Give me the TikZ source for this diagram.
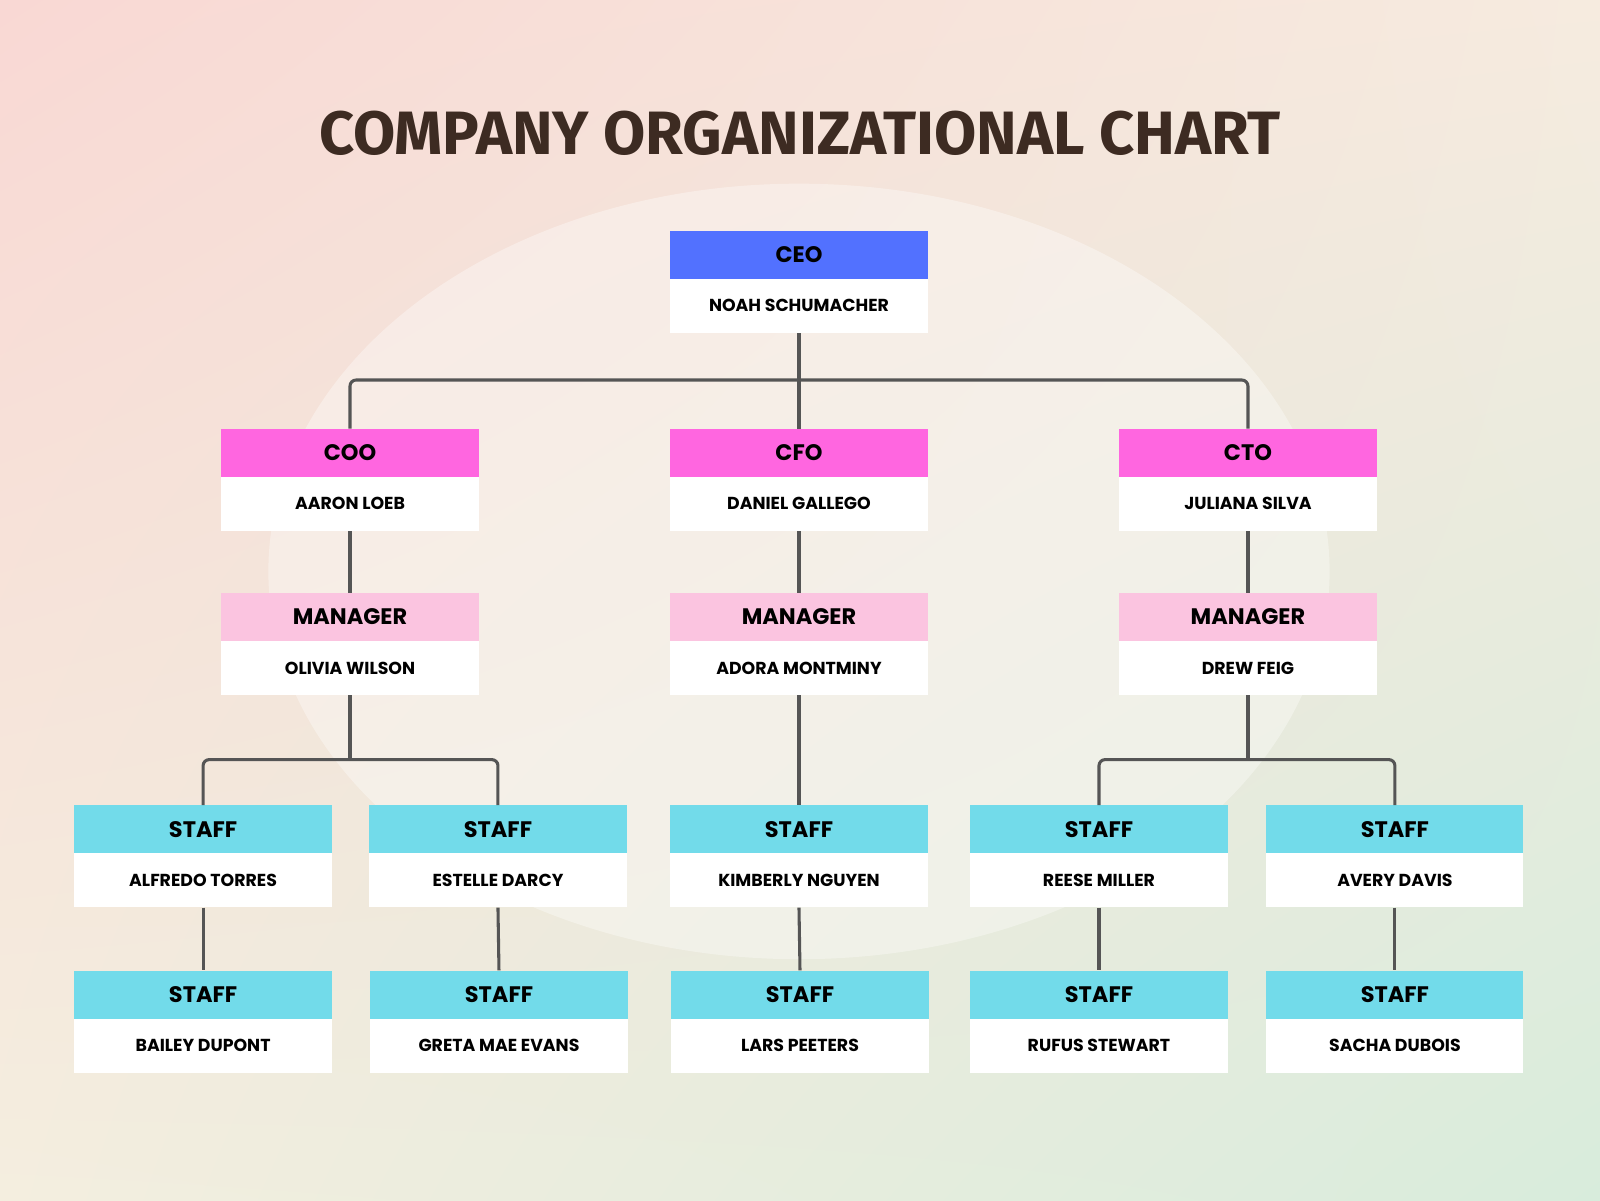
\documentclass[tikz,border=0pt]{standalone}
\usepackage{fontspec}
\usetikzlibrary{shadings}
\setmainfont{Poppins}
\newfontfamily\titlefont{Fira Sans}
\definecolor{ceoc}{HTML}{5271FF}
\definecolor{cxo}{HTML}{FF66E0}
\definecolor{mgr}{HTML}{FBC4E0}
\definecolor{stf}{HTML}{72DBEA}
\definecolor{ln}{HTML}{555555}
\definecolor{ttl}{HTML}{3D2B22}
\definecolor{bgul}{HTML}{F9D8D4}
\definecolor{bgur}{HTML}{F6EBDF}
\definecolor{bgll}{HTML}{F4EEDF}
\definecolor{bglr}{HTML}{D8ECDC}
\tikzset{
  hd/.style={minimum width=252pt,minimum height=47pt,inner sep=0pt,font=\fontsize{22}{24}\selectfont\bfseries,anchor=north},
  nm/.style={fill=white,minimum width=252pt,minimum height=53pt,inner sep=0pt,font=\fontsize{17}{20}\selectfont\bfseries,anchor=north},
  con/.style={draw=ln,line width=3pt,rounded corners=6pt}
}
\newcommand{\orgbox}[6]{%
  \node[hd,fill=#4] (#1h) at (#2,#3) {#5};
  \node[nm] (#1n) at (#2,#3+47) {#6};}
\begin{document}
\begin{tikzpicture}[x=1pt,y=-1pt]
\useasboundingbox (0,0) rectangle (1568,1176);
\shade[upper left=bgul,upper right=bgur,lower left=bgll,lower right=bglr] (0,0) rectangle (1568,1176);
\fill[white,opacity=0.35] (783,560) ellipse (520pt and 380pt);
\node[font=\titlefont\fontsize{60}{64}\selectfont\bfseries,text=ttl] (title) at (784,131) {COMPANY ORGANIZATIONAL CHART};
\orgbox{ceo}{783}{226}{ceoc}{CEO}{NOAH SCHUMACHER}
\orgbox{coo}{343}{420}{cxo}{COO}{AARON LOEB}
\orgbox{cfo}{783}{420}{cxo}{CFO}{DANIEL GALLEGO}
\orgbox{cto}{1223}{420}{cxo}{CTO}{JULIANA SILVA}
\orgbox{ma}{343}{581}{mgr}{MANAGER}{OLIVIA WILSON}
\orgbox{mb}{783}{581}{mgr}{MANAGER}{ADORA MONTMINY}
\orgbox{mc}{1223}{581}{mgr}{MANAGER}{DREW FEIG}
\orgbox{sa}{199}{789}{stf}{STAFF}{ALFREDO TORRES}
\orgbox{sb}{488}{789}{stf}{STAFF}{ESTELLE DARCY}
\orgbox{sc}{783}{789}{stf}{STAFF}{KIMBERLY NGUYEN}
\orgbox{sd}{1077}{789}{stf}{STAFF}{REESE MILLER}
\orgbox{se}{1367}{789}{stf}{STAFF}{AVERY DAVIS}
\orgbox{ta}{199}{951}{stf}{STAFF}{BAILEY DUPONT}
\orgbox{tb}{489}{951}{stf}{STAFF}{GRETA MAE EVANS}
\orgbox{tc}{784}{951}{stf}{STAFF}{LARS PEETERS}
\orgbox{td}{1077}{951}{stf}{STAFF}{RUFUS STEWART}
\orgbox{te}{1367}{951}{stf}{STAFF}{SACHA DUBOIS}
\draw[con] (ceon.south) -- (cfoh.north);
\draw[con] (cooh.north) |- ([yshift=-46pt]ceon.south) -| (ctoh.north);
\draw[con] (coon.south) -- (mah.north);
\draw[con] (cfon.south) -- (mbh.north);
\draw[con] (cton.south) -- (mch.north);
\coordinate (ba) at ([yshift=-63pt]man.south);
\coordinate (bc) at ([yshift=-63pt]mcn.south);
\draw[con] (man.south) -- (ba);
\draw[con] (sah.north) |- (ba) -| (sbh.north);
\draw[con] (mbn.south) -- (sch.north);
\draw[con] (mcn.south) -- (bc);
\draw[con] (sdh.north) |- (bc) -| (seh.north);
\draw[con] (san.south) -- (tah.north);
\draw[con] (sbn.south) -- (tbh.north);
\draw[con] (scn.south) -- (tch.north);
\draw[con] (sdn.south) -- (tdh.north);
\draw[con] (sen.south) -- (teh.north);
\end{tikzpicture}
\end{document}
